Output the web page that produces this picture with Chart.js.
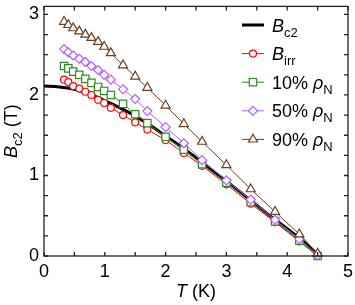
<!DOCTYPE html>
<html>
<head>
<meta charset="utf-8">
<script src="https://cdn.jsdelivr.net/npm/chart.js@4.4.1/dist/chart.umd.min.js"></script>
<style>
    html, body { margin: 0; padding: 0; background: #fff; }
    #wrap { width: 355px; height: 305px; }
</style>
</head>
<body>
<div id="wrap"><canvas id="chart" width="355" height="305"></canvas></div>
<script>
// Measured points (temperature in K, field in T)
const temps = [0.33, 0.40, 0.48, 0.58, 0.68, 0.78, 0.89, 0.99, 1.10, 1.30, 1.50, 1.70, 2.00, 2.30, 2.60, 3.00, 3.40, 3.80, 4.20, 4.50];
const bIrr  = [2.19, 2.16, 2.11, 2.08, 2.04, 2.00, 1.94, 1.90, 1.84, 1.75, 1.66, 1.57, 1.44, 1.28, 1.12, 0.89, 0.65, 0.42, 0.18, 0.00];
const rho10 = [2.36, 2.33, 2.29, 2.25, 2.20, 2.15, 2.10, 2.05, 2.00, 1.89, 1.76, 1.65, 1.48, 1.32, 1.14, 0.91, 0.67, 0.43, 0.19, 0.00];
const rho50 = [2.57, 2.53, 2.49, 2.45, 2.41, 2.36, 2.31, 2.25, 2.19, 2.07, 1.95, 1.80, 1.60, 1.40, 1.19, 0.94, 0.70, 0.45, 0.21, 0.01];
const rho90 = [2.91, 2.87, 2.83, 2.79, 2.75, 2.71, 2.66, 2.60, 2.52, 2.37, 2.23, 2.09, 1.87, 1.64, 1.42, 1.13, 0.83, 0.55, 0.27, 0.03];

// Bc2 curve
const curveTemps = [0, 0.25, 0.5, 0.75, 1.0, 1.25, 1.5, 1.75, 2.0, 2.25, 2.5, 2.75, 3.0, 3.25, 3.5, 3.75, 4.0, 4.25, 4.5];
const curveBc2   = [2.11, 2.10, 2.07, 2.01, 1.93, 1.84, 1.74, 1.62, 1.49, 1.36, 1.22, 1.07, 0.93, 0.78, 0.63, 0.48, 0.34, 0.19, 0.02];

const xTicks = [0, 1, 2, 3, 4, 5];
const yTicks = [0, 1, 2, 3];

const FONT = '"Liberation Sans", Arial, Helvetica, sans-serif';

const colors = {
    bc2: '#000000',
    irr: '#ff0000',
    r10: '#2f8a1f',
    r50: '#b65cff',
    r90: '#6b3f1f'
};

function toPoints(xs, ys) {
    return xs.map((x, i) => ({ x: x, y: ys[i] }));
}

function markerSet(label, values, color, style, radius, order) {
    return {
        label: label,
        data: toPoints(temps, values),
        showLine: true,
        borderColor: color,
        borderWidth: 1,
        pointStyle: style,
        pointRadius: radius,
        pointBorderWidth: 1.2,
        pointBorderColor: color,
        pointBackgroundColor: '#ffffff',
        clip: false,
        order: order
    };
}

// rich text: parts = [{t, italic, sub}]
function partFont(p, size, subSize) {
    return (p.italic ? 'italic ' : '') + (p.sub ? subSize : size) + 'px ' + FONT;
}

function drawRich(ctx, parts, x, y, align, size, subSize, subDy) {
    const widths = parts.map(p => {
        ctx.font = partFont(p, size, subSize);
        return ctx.measureText(p.t).width;
    });
    const total = widths.reduce((a, b) => a + b, 0);
    let cx = align === 'center' ? x - total / 2 : x;
    parts.forEach((p, i) => {
        ctx.font = partFont(p, size, subSize);
        ctx.fillText(p.t, cx, y + (p.sub ? subDy : 0));
        cx += widths[i];
    });
}

function drawMarker(ctx, style, x, y, r) {
    ctx.beginPath();
    if (style === 'circle') {
        ctx.arc(x, y, r, 0, Math.PI * 2);
    } else if (style === 'rect') {
        const s = r * Math.SQRT1_2;
        ctx.rect(x - s, y - s, 2 * s, 2 * s);
    } else if (style === 'rectRot') {
        ctx.moveTo(x, y - r);
        ctx.lineTo(x + r, y);
        ctx.lineTo(x, y + r);
        ctx.lineTo(x - r, y);
    } else if (style === 'triangle') {
        ctx.moveTo(x, y - r);
        ctx.lineTo(x + r * 0.866, y + r * 0.5);
        ctx.lineTo(x - r * 0.866, y + r * 0.5);
    }
    ctx.closePath();
    ctx.fill();
    ctx.stroke();
}

const legendRows = [
    { parts: [{ t: 'B', italic: true }, { t: 'c2', sub: true }], color: colors.bc2, style: null },
    { parts: [{ t: 'B', italic: true }, { t: 'irr', sub: true }], color: colors.irr, style: 'circle', r: 3.5 },
    { parts: [{ t: '10% ' }, { t: 'ρ', italic: true }, { t: 'N', sub: true }], color: colors.r10, style: 'rect', r: 5.2 },
    { parts: [{ t: '50% ' }, { t: 'ρ', italic: true }, { t: 'N', sub: true }], color: colors.r50, style: 'rectRot', r: 4.5 },
    { parts: [{ t: '90% ' }, { t: 'ρ', italic: true }, { t: 'N', sub: true }], color: colors.r90, style: 'triangle', r: 5.2 }
];

// frame, inward ticks, axis titles and legend
const decorations = {
    id: 'decorations',
    afterDraw(chart) {
        const ctx = chart.ctx;
        const area = chart.chartArea;
        const xs = chart.scales.x;
        const ys = chart.scales.y;
        ctx.save();

        ctx.strokeStyle = '#222';
        ctx.lineWidth = 1.3;
        ctx.strokeRect(area.left, area.top, area.right - area.left, area.bottom - area.top);

        ctx.beginPath();
        for (let v = 0; v <= 5.001; v += 0.5) {
            const px = xs.getPixelForValue(v);
            ctx.moveTo(px, area.bottom);
            ctx.lineTo(px, area.bottom - 4);
            ctx.moveTo(px, area.top);
            ctx.lineTo(px, area.top + 4);
        }
        for (let v = 0; v <= 3.001; v += 0.25) {
            const py = ys.getPixelForValue(v);
            ctx.moveTo(area.left, py);
            ctx.lineTo(area.left + 4, py);
            ctx.moveTo(area.right, py);
            ctx.lineTo(area.right - 4, py);
        }
        ctx.stroke();

        // axis titles
        ctx.fillStyle = '#000';
        ctx.textBaseline = 'alphabetic';
        drawRich(ctx, [{ t: 'T', italic: true }, { t: ' (K)' }],
            (area.left + area.right) / 2, 296.5, 'center', 18, 13, 5);

        ctx.save();
        ctx.translate(17, (area.top + area.bottom) / 2);
        ctx.rotate(-Math.PI / 2);
        drawRich(ctx, [{ t: 'B', italic: true }, { t: 'c2', sub: true }, { t: ' (T)' }],
            0, 0, 'center', 18, 13, 4.5);
        ctx.restore();

        // legend
        legendRows.forEach((row, i) => {
            const y = 25 + i * 28.6;
            ctx.strokeStyle = row.color;
            ctx.lineWidth = row.style ? 1 : 3;
            ctx.beginPath();
            ctx.moveTo(242, y);
            ctx.lineTo(264, y);
            ctx.stroke();
            if (row.style) {
                ctx.fillStyle = '#fff';
                ctx.lineWidth = 1.2;
                drawMarker(ctx, row.style, 253, y, row.r);
            }
            ctx.fillStyle = '#000';
            drawRich(ctx, row.parts, 272, y + 6.5, 'left', 18, 13, 5);
        });

        ctx.restore();
    }
};

new Chart(document.getElementById('chart'), {
    type: 'scatter',
    data: {
        datasets: [
            {
                label: 'Bc2',
                data: toPoints(curveTemps, curveBc2),
                showLine: true,
                borderColor: colors.bc2,
                borderWidth: 3,
                pointRadius: 0,
                cubicInterpolationMode: 'monotone',
                clip: false,
                order: 5
            },
            markerSet('Birr', bIrr, colors.irr, 'circle', 3.5, 4),
            markerSet('10%', rho10, colors.r10, 'rect', 5.2, 3),
            markerSet('50%', rho50, colors.r50, 'rectRot', 4.5, 2),
            markerSet('90%', rho90, colors.r90, 'triangle', 5.2, 1)
        ]
    },
    options: {
        responsive: false,
        animation: false,
        events: [],
        layout: { padding: { top: 4, right: 7, left: 0, bottom: 0 } },
        plugins: {
            legend: { display: false },
            tooltip: { enabled: false }
        },
        scales: {
            x: {
                type: 'linear',
                min: 0,
                max: 5,
                grid: { display: false, drawTicks: false },
                border: { display: false },
                afterBuildTicks: s => { s.ticks = xTicks.map(v => ({ value: v })); },
                afterFit: s => {
                    s.height = 49;
                    s.paddingLeft = 0; s.paddingRight = 0;
                },
                ticks: {
                    color: '#000',
                    font: { family: FONT, size: 18 },
                    padding: 5,
                    maxRotation: 0,
                    autoSkip: false
                }
            },
            y: {
                type: 'linear',
                min: 0,
                max: 3.1,
                grid: { display: false, drawTicks: false },
                border: { display: false },
                afterBuildTicks: s => { s.ticks = yTicks.map(v => ({ value: v })); },
                afterFit: s => {
                    s.width = 44;
                    s.paddingTop = 0; s.paddingBottom = 0;
                },
                ticks: {
                    color: '#000',
                    font: { family: FONT, size: 18 },
                    padding: 5,
                    autoSkip: false
                }
            }
        }
    },
    plugins: [decorations]
});
</script>
</body>
</html>
